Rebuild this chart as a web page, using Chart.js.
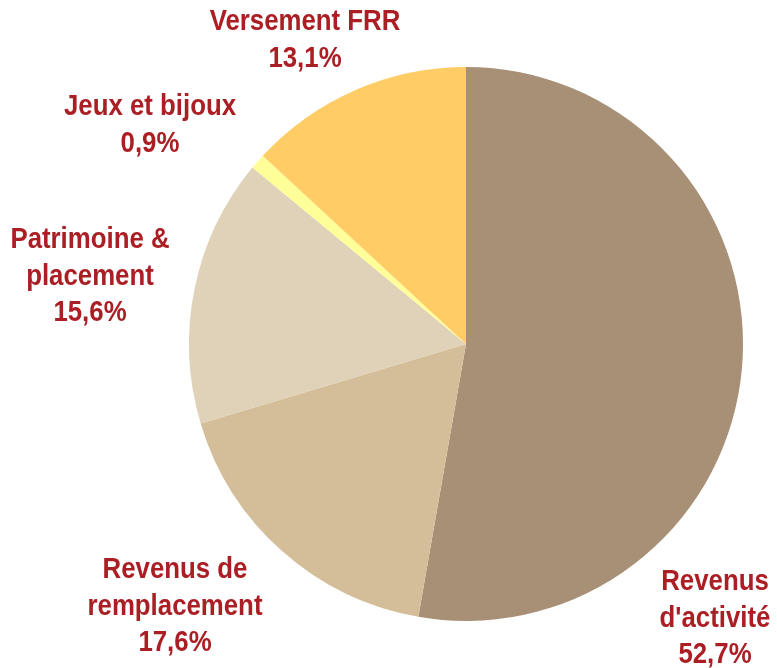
<!DOCTYPE html>
<html><head><meta charset="utf-8">
<script src="https://cdn.jsdelivr.net/npm/chart.js@4/dist/chart.umd.min.js"></script>
<style>html,body{margin:0;padding:0;background:#fff}#wrap{width:777px;height:668px;position:relative}</style>
</head><body><div id="wrap"><canvas id="c" width="777" height="668"></canvas></div>
<script>
const categories = ["Revenus d'activité", "Revenus de remplacement", "Patrimoine & placement", "Jeux et bijoux", "Versement FRR"];
const values = [52.7, 17.6, 15.6, 0.9, 13.1];
const valueLabels = ["52,7%", "17,6%", "15,6%", "0,9%", "13,1%"];
const labelLines = [["Revenus", "d'activité"], ["Revenus de", "remplacement"], ["Patrimoine &", "placement"], ["Jeux et bijoux"], ["Versement FRR"]];
const colors = ["#A89076", "#D4BE9A", "#E0D2B8", "#FFFF99", "#FFCC66"];
// label block anchors (center x, first line y) for annotation text
const labelAnchors = [[715, 582], [175, 570], [90, 240], [150, 107], [305, 22]];

const labelPlugin = {
  id: 'outLabels',
  afterDraw(chart) {
    const ctx = chart.ctx;
    ctx.save();
    ctx.fillStyle = '#AA1E24';
    ctx.font = 'bold 30px "Liberation Sans Narrow", "Arial Narrow", "Liberation Sans", sans-serif';
    ctx.textAlign = 'center';
    ctx.textBaseline = 'middle';
    const sx = 0.86;
    const lh = 36.3;
    labelLines.forEach((lines, i) => {
      const [x, y] = labelAnchors[i];
      const all = lines.concat([valueLabels[i]]);
      all.forEach((t, j) => {
        ctx.save();
        ctx.translate(x, y + j * lh);
        ctx.scale(sx, 1);
        ctx.fillText(t, 0, 0);
        ctx.restore();
      });
    });
    ctx.restore();
  }
};

new Chart(document.getElementById('c'), {
  type: 'pie',
  data: { labels: categories, datasets: [{ data: values, backgroundColor: colors, borderWidth: 0 }] },
  options: {
    responsive: false, animation: false,
    layout: { padding: { top: 67, bottom: 47, left: 189, right: 34 } },
    plugins: { legend: { display: false }, tooltip: { enabled: false } }
  },
  plugins: [labelPlugin]
});
</script></body></html>
